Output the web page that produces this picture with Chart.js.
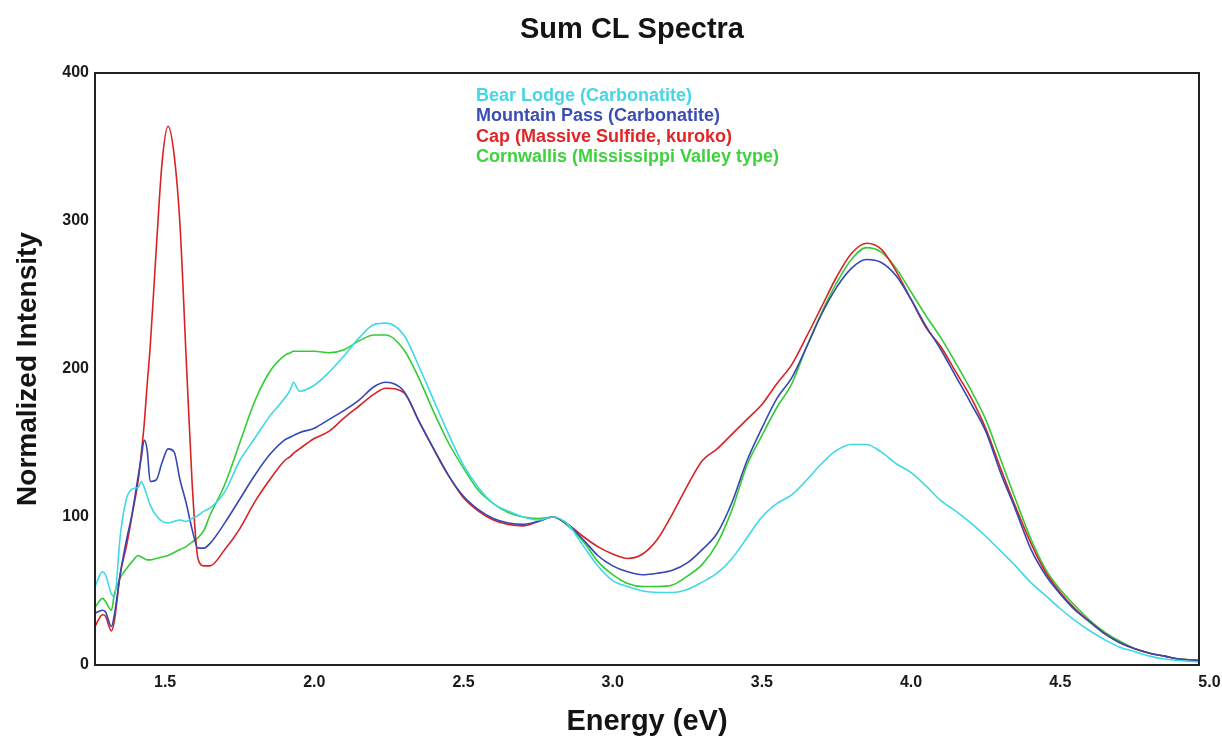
<!DOCTYPE html>
<html>
<head>
<meta charset="utf-8">
<title>Sum CL Spectra</title>
<script src="https://cdn.jsdelivr.net/npm/chart.js@4.4.1/dist/chart.umd.min.js"></script>
<style>
  html, body { margin: 0; padding: 0; background: #fff; }
  #wrap { width: 1222px; height: 740px; }
</style>
</head>
<body>
<div id="wrap"><canvas id="spectra" width="1222" height="740"></canvas></div>
<script>
// photon energy (eV), shared by all four spectra
const energy = [
  1.265, 1.29, 1.30, 1.32, 1.33, 1.35, 1.37, 1.39, 1.41, 1.42,
  1.43, 1.44, 1.45, 1.47, 1.49, 1.51, 1.53, 1.55, 1.57, 1.59,
  1.61, 1.63, 1.65, 1.70, 1.75, 1.80, 1.85, 1.90, 1.92, 1.93,
  1.95, 2.00, 2.05, 2.10, 2.15, 2.20, 2.24, 2.30, 2.35, 2.40,
  2.45, 2.50, 2.55, 2.60, 2.65, 2.70, 2.75, 2.80, 2.85, 2.90,
  2.95, 3.00, 3.05, 3.10, 3.15, 3.20, 3.25, 3.30, 3.35, 3.40,
  3.45, 3.50, 3.55, 3.60, 3.65, 3.70, 3.75, 3.80, 3.85, 3.90,
  3.95, 4.00, 4.05, 4.10, 4.15, 4.20, 4.25, 4.30, 4.35, 4.40,
  4.45, 4.50, 4.55, 4.60, 4.65, 4.70, 4.75, 4.80, 4.85, 4.90,
  4.965
];

const bearLodge = [
  53, 63, 61, 48, 46, 88, 112, 119, 120, 124,
  120, 114, 108, 101, 97, 96, 97, 98, 97, 99,
  101, 104, 106, 117, 138, 153, 168, 180, 186, 191,
  185, 189, 198, 209, 221, 230, 231, 223, 202, 179,
  156, 135, 120, 109, 104, 100, 98, 100, 95, 81,
  67, 57, 53, 50, 49, 49, 51, 56, 62, 72,
  86, 100, 109, 115, 125, 136, 145, 149, 149, 144,
  136, 130, 121, 111, 104, 96, 87, 77, 67, 56,
  47, 38, 30, 23, 17, 12, 9, 6, 4, 3,
  2
];

const mountainPass = [
  35, 37, 36, 26, 34, 62, 84, 103, 128, 140,
  152, 145, 124, 125, 137, 146, 144, 125, 110, 92,
  79, 79, 82, 96, 112, 128, 142, 152, 154, 155,
  157, 160, 166, 172, 179, 188, 191, 185, 165, 146,
  128, 114, 105, 99, 96, 95, 97, 100, 95, 85,
  74, 67, 63, 61, 62, 64, 69, 78, 89, 110,
  138, 160, 180, 194, 215, 237, 255, 268, 274, 272,
  263, 247, 229, 213, 195, 177, 158, 130, 105, 79,
  61, 48, 37, 29, 21, 15, 11, 8, 6, 4,
  3
];

const cap = [
  26, 34, 33, 23, 30, 62, 80, 102, 125, 143,
  163, 190, 215, 280, 340, 364, 345, 297, 210, 125,
  72, 67, 67, 78, 92, 110, 125, 138, 141, 143,
  146, 153, 158, 167, 175, 183, 187, 184, 165, 146,
  128, 113, 104, 98, 95, 94, 97, 100, 95, 87,
  80, 75, 72, 75, 85, 102, 121, 138, 146, 156,
  166, 176, 190, 203, 222, 242, 262, 278, 285, 281,
  266, 247, 228, 215, 198, 181, 160, 133, 107, 83,
  63, 49, 38, 29, 21, 15, 11, 8, 6, 4,
  3
];

const cornwallis = [
  39, 45, 43, 37, 48, 59, 65, 70, 74, 73,
  72, 71, 71, 72, 73, 74, 76, 78, 80, 83,
  86, 91, 101, 122, 150, 178, 198, 209, 211, 212,
  212, 212, 211, 213, 219, 223, 223, 213, 194, 171,
  150, 133, 118, 109, 103, 100, 99, 100, 94, 84,
  70, 61, 55, 53, 53, 54, 60, 68, 82, 105,
  135, 155, 174, 190, 215, 238, 258, 274, 282, 279,
  268, 252, 236, 221, 204, 186, 166, 139, 112, 86,
  65, 51, 40, 30, 22, 16, 11, 8, 6, 4,
  3
];

const seriesLabels = [
  'Bear Lodge (Carbonatite)',
  'Mountain Pass (Carbonatite)',
  'Cap (Massive Sulfide, kuroko)',
  'Cornwallis (Mississippi Valley type)'
];
const seriesValues = [bearLodge, mountainPass, cap, cornwallis];
const lineColors = ['#3fd8e6', '#3548b2', '#d92323', '#34cc34'];
const legendColors = ['#45d6e6', '#3b4db3', '#e02626', '#3dd23d'];

const xTicks = [1.5, 2.0, 2.5, 3.0, 3.5, 4.0, 4.5, 5.0];
const yTicks = [0, 100, 200, 300, 400];

const fontFamily = '"Liberation Sans", Arial, Helvetica, sans-serif';
Chart.defaults.font.family = fontFamily;

const toPoints = (values) => values.map((v, i) => ({ x: energy[i], y: v }));

// box around the plot area
const framePlugin = {
  id: 'frame',
  afterDraw(chart) {
    const { ctx, chartArea: { left, top, right, bottom } } = chart;
    ctx.save();
    ctx.strokeStyle = '#222';
    ctx.lineWidth = 2;
    ctx.strokeRect(left, top, right - left, bottom - top);
    ctx.restore();
  }
};

// chart title and the coloured text legend inside the plot
const titleLegendPlugin = {
  id: 'titleLegend',
  afterDraw(chart) {
    const { ctx, chartArea } = chart;
    ctx.save();
    ctx.fillStyle = '#141414';
    ctx.font = `bold 29px ${fontFamily}`;
    ctx.textAlign = 'center';
    ctx.textBaseline = 'middle';
    ctx.fillText('Sum CL Spectra', 632, 30);

    ctx.font = `bold 18px ${fontFamily}`;
    ctx.textAlign = 'left';
    chart.data.datasets.forEach((ds, i) => {
      ctx.fillStyle = legendColors[i];
      ctx.fillText(ds.label, chartArea.left + 381, chartArea.top + 23 + i * 20.5);
    });
    ctx.restore();
  }
};

const axisFont = { family: fontFamily, size: 16, weight: 'bold' };

new Chart(document.getElementById('spectra'), {
  type: 'line',
  data: {
    datasets: seriesLabels.map((label, i) => ({
      label: label,
      data: toPoints(seriesValues[i]),
      borderColor: lineColors[i],
      backgroundColor: lineColors[i],
      borderWidth: 1.6,
      pointRadius: 0,
      fill: false,
      cubicInterpolationMode: 'monotone'
    }))
  },
  options: {
    responsive: false,
    animation: false,
    devicePixelRatio: 1,
    layout: { padding: { top: 73, right: 23, bottom: 0, left: 0 } },
    plugins: {
      legend: { display: false },
      title: { display: false },
      tooltip: { enabled: false }
    },
    scales: {
      x: {
        type: 'linear',
        min: 1.265,
        max: 4.965,
        afterBuildTicks: (scale) => {
          scale.ticks = xTicks.map((v) => ({ value: v }));
        },
        afterFit: (scale) => {
          scale.height = 75;
          scale.paddingLeft = 0;
          scale.paddingRight = 0;
        },
        grid: { display: false, drawTicks: false },
        border: { display: false },
        ticks: {
          autoSkip: false,
          maxRotation: 0,
          padding: 8,
          color: '#1a1a1a',
          font: axisFont,
          callback: (v) => Number(v).toFixed(1)
        },
        title: {
          display: true,
          text: 'Energy (eV)',
          color: '#141414',
          font: { family: fontFamily, size: 29, weight: 'bold' },
          padding: { top: 0, bottom: 1 }
        }
      },
      y: {
        min: 0,
        max: 400,
        afterBuildTicks: (scale) => {
          scale.ticks = yTicks.map((v) => ({ value: v }));
        },
        afterFit: (scale) => {
          scale.width = 95;
          scale.paddingTop = 0;
          scale.paddingBottom = 0;
        },
        grid: { display: false, drawTicks: false },
        border: { display: false },
        ticks: {
          padding: 6,
          color: '#1a1a1a',
          font: axisFont
        },
        title: {
          display: true,
          text: 'Normalized Intensity',
          color: '#141414',
          font: { family: fontFamily, size: 28, weight: 'bold' },
          padding: { top: 11, bottom: 0 }
        }
      }
    }
  },
  plugins: [framePlugin, titleLegendPlugin]
});
</script>
</body>
</html>
